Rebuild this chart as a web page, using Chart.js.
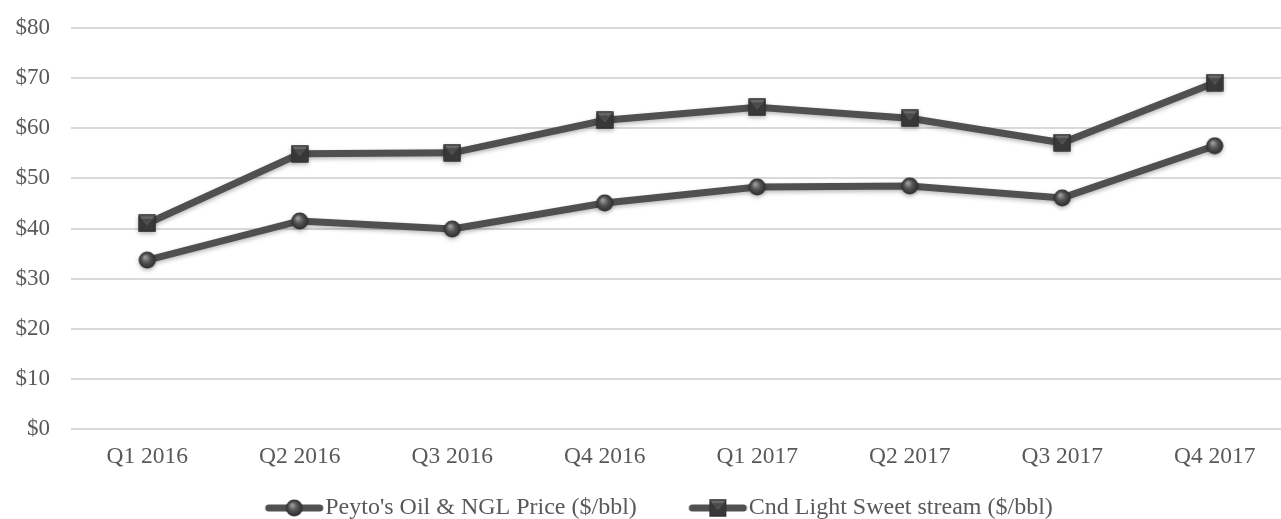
<!DOCTYPE html>
<html>
<head>
<meta charset="utf-8">
<script src="https://cdn.jsdelivr.net/npm/chart.js@4.4.1/dist/chart.umd.min.js"></script>
<style>
  html, body { margin: 0; padding: 0; background: #ffffff; overflow: hidden; }
  #wrap { width: 1320px; height: 530px; }
</style>
</head>
<body>
<div id="wrap"><canvas id="oilChart" width="1320" height="530"></canvas></div>
<script>
// Peyto - preus del petroli (trimestral)
const quarters = ['Q1 2016', 'Q2 2016', 'Q3 2016', 'Q4 2016', 'Q1 2017', 'Q2 2017', 'Q3 2017', 'Q4 2017'];
const peytoPrice = [33.7, 41.5, 39.9, 45.1, 48.3, 48.5, 46.1, 56.5];
const cndLightSweet = [41.0, 54.9, 55.1, 61.6, 64.2, 62.0, 57.1, 69.1];
const seriesNames = ["Peyto's Oil & NGL Price ($/bbl)", 'Cnd Light Sweet stream ($/bbl)'];

const LINE_COLOR = '#505050';
const TEXT_COLOR = '#595959';
const FONT = "'Liberation Serif', 'Times New Roman', serif";

// mides de la llegenda
const LEGEND_FONT = 24;
const LEGEND_PAD = 25;
const ICON_W = 58;      // línia + marcador visibles
const ICON_GAP = 2;     // espai entre icona i text
const ITEM_GAP = 52;    // espai entre el text d'un element i la icona del següent
const BLANK = ITEM_GAP - LEGEND_PAD;
const BOX_W = BLANK + ICON_W + ICON_GAP - LEGEND_FONT / 2;

// esfera grisa amb brillantor
function drawSphere(ctx, cx, cy, r) {
  const g = ctx.createRadialGradient(cx - r * 0.25, cy - r * 0.35, r * 0.1, cx, cy, r);
  g.addColorStop(0, '#9a9a9a');
  g.addColorStop(0.45, '#555555');
  g.addColorStop(1, '#2c2c2c');
  ctx.fillStyle = g;
  ctx.beginPath();
  ctx.arc(cx, cy, r, 0, Math.PI * 2);
  ctx.fill();
}

// quadrat amb bisell
function drawBevelSquare(ctx, cx, cy, s) {
  const h = s / 2;
  ctx.fillStyle = '#383838';
  ctx.fillRect(cx - h, cy - h, s, s);
  ctx.fillStyle = '#6a6a6a';
  ctx.beginPath();
  ctx.moveTo(cx - h, cy - h);
  ctx.lineTo(cx + h, cy - h);
  ctx.lineTo(cx, cy + h * 0.2);
  ctx.closePath();
  ctx.fill();
  ctx.fillStyle = '#4a4a4a';
  ctx.beginPath();
  ctx.moveTo(cx - h * 0.6, cy - h * 0.55);
  ctx.lineTo(cx + h * 0.6, cy - h * 0.55);
  ctx.lineTo(cx, cy + h * 0.1);
  ctx.closePath();
  ctx.fill();
  ctx.strokeStyle = '#2e2e2e';
  ctx.lineWidth = 1;
  ctx.strokeRect(cx - h + 0.5, cy - h + 0.5, s - 1, s - 1);
}

function makeMarker(kind) {
  const c = document.createElement('canvas');
  c.width = 18; c.height = 18;
  const ctx = c.getContext('2d');
  if (kind === 'circle') drawSphere(ctx, 9, 9, 8.5);
  else drawBevelSquare(ctx, 9, 9, 17);
  return c;
}

// icona de llegenda: línia + marcador, desplaçada cap a la dreta dins la imatge
function makeLegendIcon(kind) {
  const half = Math.ceil(BOX_W / 2 + (LEGEND_FONT / 2 - ICON_GAP)) + 1;
  const c = document.createElement('canvas');
  c.width = half * 2; c.height = 20;
  const ctx = c.getContext('2d');
  const left = half - BOX_W / 2 + BLANK;  // inici visible dins la imatge
  const right = left + ICON_W;
  ctx.strokeStyle = LINE_COLOR;
  ctx.lineWidth = 7;
  ctx.lineCap = 'round';
  ctx.beginPath();
  ctx.moveTo(left + 3.5, 10);
  ctx.lineTo(right - 3.5, 10);
  ctx.stroke();
  const mid = (left + right) / 2;
  if (kind === 'circle') drawSphere(ctx, mid, 10, 8.5);
  else drawBevelSquare(ctx, mid, 10, 17);
  return c;
}

const markers = [makeMarker('circle'), makeMarker('square')];
const legendIcons = [makeLegendIcon('circle'), makeLegendIcon('square')];

const lineShadow = {
  id: 'lineShadow',
  beforeDatasetsDraw(chart) {
    const ctx = chart.ctx;
    ctx.save();
    ctx.shadowColor = 'rgba(0, 0, 0, 0.28)';
    ctx.shadowBlur = 4;
    ctx.shadowOffsetY = 2;
  },
  afterDatasetsDraw(chart) {
    chart.ctx.restore();
  }
};

new Chart(document.getElementById('oilChart'), {
  type: 'line',
  data: {
    labels: quarters,
    datasets: [
      {
        label: seriesNames[0],
        data: peytoPrice,
        borderColor: LINE_COLOR,
        borderWidth: 7,
        pointStyle: markers[0],
        pointRadius: 9,
        tension: 0
      },
      {
        label: seriesNames[1],
        data: cndLightSweet,
        borderColor: LINE_COLOR,
        borderWidth: 7,
        pointStyle: markers[1],
        pointRadius: 9,
        tension: 0
      }
    ]
  },
  options: {
    responsive: false,
    animation: false,
    layout: {
      padding: { left: 0, right: 29, top: 28, bottom: 0 }
    },
    plugins: {
      tooltip: { enabled: false },
      legend: {
        position: 'bottom',
        labels: {
          usePointStyle: true,
          pointStyleWidth: BOX_W,
          padding: LEGEND_PAD,
          color: TEXT_COLOR,
          font: { family: FONT, size: LEGEND_FONT },
          generateLabels(chart) {
            const items = Chart.defaults.plugins.legend.labels.generateLabels(chart);
            items.forEach((item, i) => { item.pointStyle = legendIcons[i]; });
            return items;
          }
        }
      }
    },
    scales: {
      x: {
        offset: true,
        grid: { display: false, drawTicks: false },
        border: { display: false },
        ticks: {
          color: TEXT_COLOR,
          font: { family: FONT, size: 23.5 },
          padding: 14
        },
        afterFit(scale) { scale.height = 42; }
      },
      y: {
        min: 0,
        max: 80,
        border: { display: false },
        grid: { color: '#d9d9d9', lineWidth: 2, drawTicks: false },
        ticks: {
          stepSize: 10,
          padding: 21,
          color: TEXT_COLOR,
          font: { family: FONT, size: 23 },
          callback: (v) => '$' + v
        },
        afterFit(scale) {
          scale.width = 71;
          scale.paddingTop = 0;
          scale.paddingBottom = 0;
        }
      }
    }
  },
  plugins: [lineShadow]
});
</script>
</body>
</html>
